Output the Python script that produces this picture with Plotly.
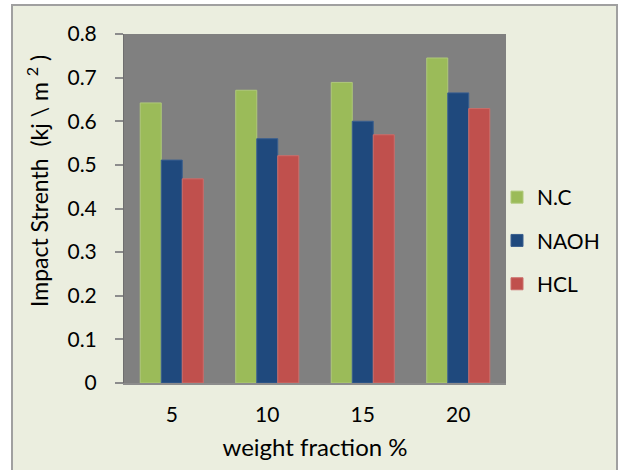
import plotly.graph_objects as go

# Impact strength of composites by fibre weight fraction and treatment
weight_fraction = ["5", "10", "15", "20"]
nc_values = [0.642, 0.671, 0.689, 0.745]
naoh_values = [0.511, 0.560, 0.600, 0.665]
hcl_values = [0.468, 0.521, 0.569, 0.629]
y_ticks = [0, 0.1, 0.2, 0.3, 0.4, 0.5, 0.6, 0.7, 0.8]
y_tick_labels = ["0", "0.1", "0.2", "0.3", "0.4", "0.5", "0.6", "0.7", "0.8"]

series = [
    ("N.C", nc_values, "#9BBB59", "#AFC97A"),
    ("NAOH", naoh_values, "#1F497D", "#3A5F8F"),
    ("HCL", hcl_values, "#C0504D", "#CB6E6B"),
]

FONT = "Lato"
fig = go.Figure()
for i, (name, vals, color, edge) in enumerate(series):
    fig.add_trace(go.Bar(
        x=weight_fraction, y=vals, name=name, legendgroup=str(i),
        marker=dict(color=color, line=dict(color=edge, width=1)),
    ))

W, H = 621, 470
L, R, T, B = 124, 506, 34, 383
pw, ph = R - L, B - T


def px(x):
    return (x - L) / pw


def py(y):
    return (B - y) / ph


fig.update_layout(
    width=W, height=H,
    margin=dict(l=L, r=W - R, t=T, b=H - B, pad=0),
    paper_bgcolor="white",
    plot_bgcolor="#808080",
    barmode="group", bargap=0.34, bargroupgap=0,
    font=dict(family=FONT, size=21, color="#000000"),
    showlegend=True,
    legend=dict(x=px(497), y=py(177), xanchor="left", yanchor="top",
                bgcolor="rgba(0,0,0,0)", tracegroupgap=13,
                font=dict(size=21), itemwidth=30),
    xaxis=dict(showgrid=False, showline=True, linecolor="#8C8C8C", linewidth=2,
               ticks="", tickfont=dict(size=21), ticklabelstandoff=12,
               title=dict(text="weight fraction %", font=dict(size=24), standoff=14)),
    yaxis=dict(range=[0, 0.8], tickvals=y_ticks, ticktext=y_tick_labels,
               showgrid=False, showline=True, linecolor="#6E6E6E", linewidth=1,
               ticks="outside", ticklen=8, tickcolor="#8C8C8C", tickwidth=2,
               tickfont=dict(size=21), ticklabelstandoff=14, zeroline=False),
    shapes=[
        dict(type="rect", xref="paper", yref="paper", layer="below",
             x0=px(12), x1=px(617), y0=py(480), y1=py(5),
             fillcolor="#EBEEDF", line=dict(color="#A0A0A0", width=2)),
        dict(type="rect", xref="paper", yref="paper", layer="below",
             x0=0, x1=1, y0=0, y1=1, fillcolor="#808080", line=dict(width=0)),
    ],
    annotations=[
        dict(text="Impact Strenth  (kj \\ m <sup>2</sup> )", textangle=-90,
             xref="paper", yref="paper", x=px(37), y=py(181),
             xanchor="center", yanchor="middle",
             showarrow=False, font=dict(size=23)),
    ],
)

fig.write_html("out.html")
